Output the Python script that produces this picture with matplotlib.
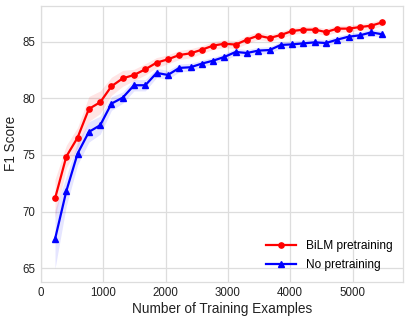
import numpy as np
import matplotlib
matplotlib.use("Agg")
import matplotlib.pyplot as plt

x_examples = np.linspace(225, 5480, 30)

bilm_f1 = [71.15, 74.85, 76.53, 79.06, 79.65, 81.06, 81.76, 82.06, 82.56, 83.15,
           83.44, 83.82, 83.97, 84.29, 84.65, 84.82, 84.74, 85.18, 85.53, 85.32,
           85.59, 85.94, 86.06, 86.06, 85.85, 86.15, 86.15, 86.29, 86.41, 86.71]
bilm_err = [1.7, 1.0, 0.9, 1.1, 1.0, 0.8, 0.7, 0.5, 0.5, 0.45,
            0.4, 0.4, 0.4, 0.35, 0.35, 0.35, 0.35, 0.35, 0.35, 0.3,
            0.3, 0.3, 0.3, 0.3, 0.3, 0.3, 0.3, 0.3, 0.3, 0.3]

none_f1 = [67.56, 71.8, 75.12, 77.03, 77.62, 79.53, 80.06, 81.15, 81.15, 82.24,
           82.06, 82.68, 82.74, 83.06, 83.32, 83.65, 84.09, 84.0, 84.21, 84.26,
           84.71, 84.76, 84.85, 84.94, 84.88, 85.18, 85.44, 85.56, 85.82, 85.65]
none_err = [2.6, 1.3, 1.0, 0.9, 0.8, 0.6, 0.5, 0.5, 0.5, 0.4,
            0.4, 0.35, 0.35, 0.3, 0.3, 0.3, 0.3, 0.3, 0.3, 0.3,
            0.3, 0.3, 0.3, 0.3, 0.3, 0.3, 0.3, 0.3, 0.3, 0.3]

plt.rcParams['font.family'] = ['Liberation Sans', 'DejaVu Sans']

fig = plt.figure(figsize=(4.09, 3.27), dpi=100)
ax = fig.add_axes([41/409, 1 - 281.7/327, (403-41)/409, (281.7-6)/327])

b = np.array(bilm_f1); be = np.array(bilm_err)
n = np.array(none_f1); ne = np.array(none_err)
ax.fill_between(x_examples, b - be, b + be, color='red', alpha=0.1, lw=0)
ax.fill_between(x_examples, n - ne, n + ne, color='blue', alpha=0.1, lw=0)
ax.plot(x_examples, b, color='red', marker='o', ms=3.8, lw=1.6, label='BiLM pretraining')
ax.plot(x_examples, n, color='blue', marker='^', ms=3.8, lw=1.6, label='No pretraining')

ax.set_xlim(0, 5810)
ax.set_ylim(63.8, 88.15)
ax.set_xticks([0, 1000, 2000, 3000, 4000, 5000])
ax.set_yticks([65, 70, 75, 80, 85])
ax.grid(True, color='#dddddd', lw=0.9)
ax.set_axisbelow(True)
for s in ax.spines.values():
    s.set_color('#dddddd')
    s.set_linewidth(0.9)
ax.tick_params(length=0, labelsize=8.3, colors='#222222', pad=4)
ax.set_xlabel('Number of Training Examples', fontsize=9.8, color='#222222', labelpad=2)
ax.set_ylabel('F1 Score', fontsize=9.8, color='#222222', labelpad=3)
leg = ax.legend(loc='lower right', frameon=False, fontsize=8.6, handlelength=2.5,
                borderaxespad=0.5, labelspacing=0.6)

fig.savefig('out.png', dpi=100)
